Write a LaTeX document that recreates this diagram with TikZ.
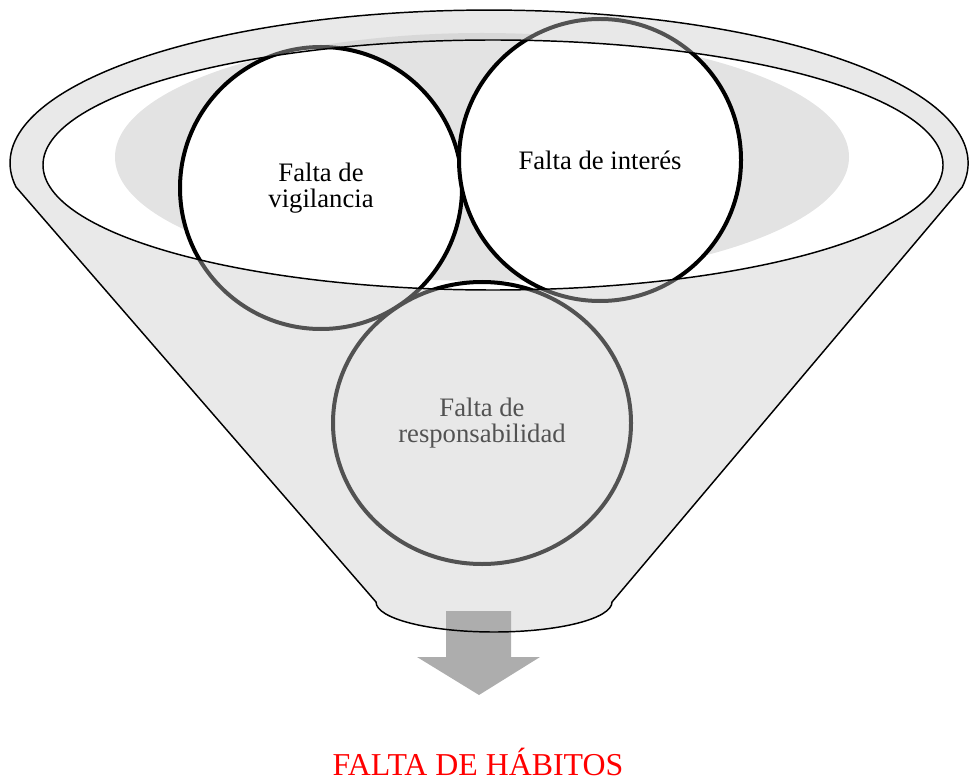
\documentclass[tikz,border=0pt]{standalone}
\usepackage{fontspec}
\setmainfont{Liberation Serif}
\usetikzlibrary{shapes.geometric}
\begin{document}
\begin{tikzpicture}[x=0.75pt,y=-0.75pt,
    circulo/.style={ellipse, draw=black, line width=3pt, fill=white, inner sep=0pt,
        align=center, font=\fontsize{20}{19.6}\selectfont, minimum width=211.5pt, minimum height=211.5pt},
    velo/.style={fill=black!21, fill opacity=0.41},
    borde/.style={draw=black, line width=1.1pt}]
    \useasboundingbox (0,0) rectangle (969,780);
    % fondo gris dentro de la boca del embudo
    \fill[black!11] (482,157) ellipse [x radius=367, y radius=124];
    \node (vig) at (321,188) [circulo] {Falta de\\vigilancia};
    \node (int) at (600,160) [circulo] {Falta de interés};
    \node (resp) at (482,423) [circulo, minimum width=223.5pt] {Falta de\\responsabilidad};
    % cuerpo del embudo (semitransparente, sin la boca)
    \fill[velo, even odd rule] (16,187) arc [start angle=171, end angle=369, x radius=479, y radius=153]
        -- (612,602) arc [start angle=0, end angle=180, x radius=118, y radius=30] -- cycle
        (493,165) ellipse [x radius=450, y radius=125];
    % flecha
    \fill[black!32] (446,611) -- (511,611) -- (511,657) -- (540,657) -- (479,695)
        -- (417,657) -- (446,657) -- cycle;
    \draw[borde] (16,187) arc [start angle=171, end angle=369, x radius=479, y radius=153]
        -- (612,602) arc [start angle=0, end angle=180, x radius=118, y radius=30] -- cycle;
    \draw[borde] (493,165) ellipse [x radius=450, y radius=125];
    \node (habitos) at (478,775) [anchor=base, text=red, font=\fontsize{23.9}{28}\selectfont] {FALTA DE HÁBITOS};
\end{tikzpicture}
\end{document}
